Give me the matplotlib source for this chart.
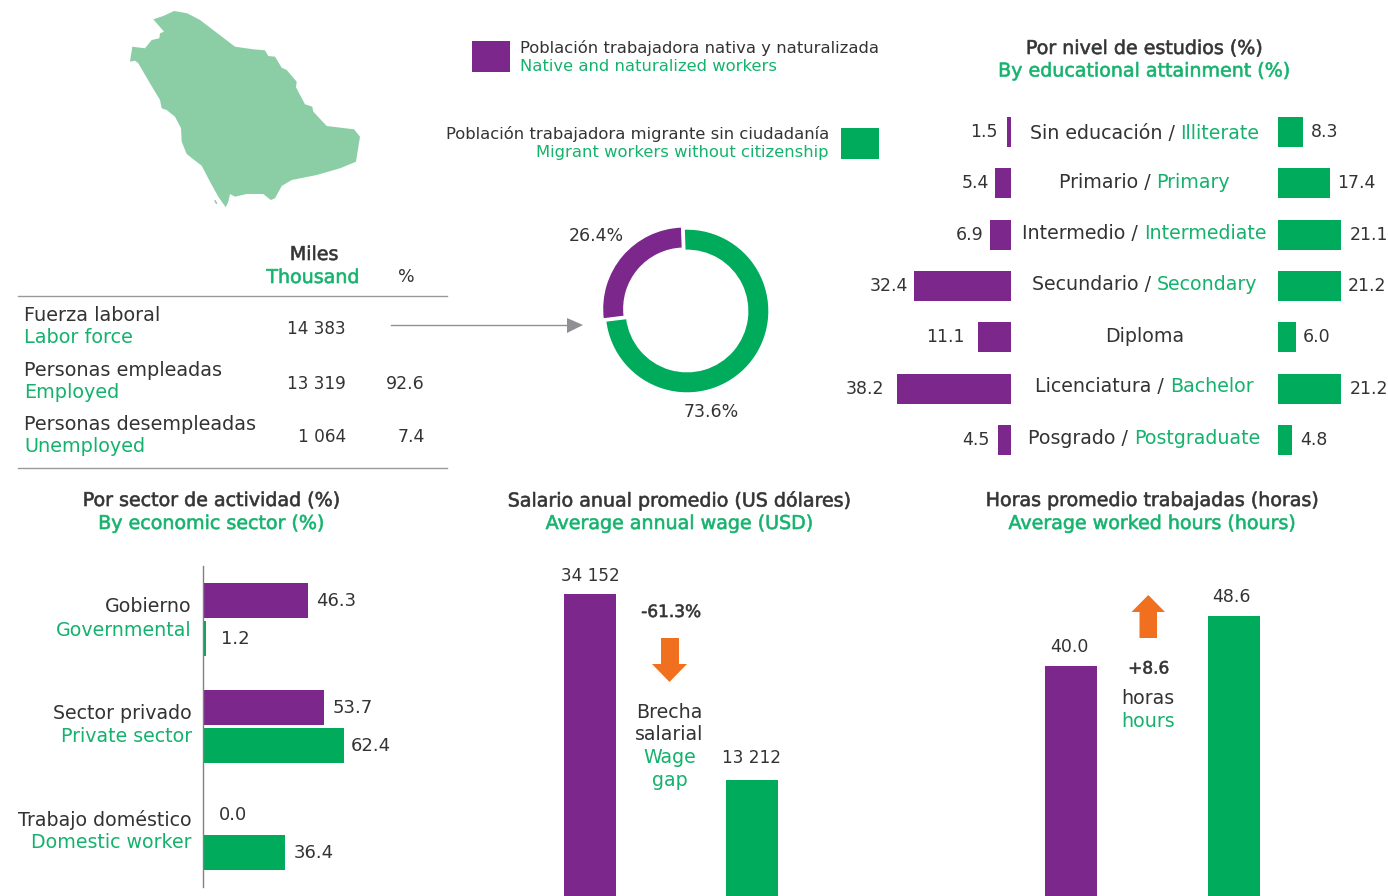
import matplotlib
matplotlib.use('Agg')
import matplotlib.pyplot as plt
import matplotlib.patheffects as pe
from matplotlib.patches import Polygon, Rectangle

W, H = 1388, 896
PURPLE = '#7b278c'
GREEN = '#00ab5b'
TGREEN = '#14b26c'
DARK = '#333333'
ORANGE = '#f0701f'
GREY = '#8f9094'
MAPC = '#8bcea6'
LABEL = 13.7
VALUE = 12.5

plt.rcParams['font.family'] = ['DejaVu Sans']

# donut
donut_vals = [73.6, 26.4]

# education
edu_es = ['Sin educación', 'Primario', 'Intermedio', 'Secundario', 'Diploma', 'Licenciatura', 'Posgrado']
edu_en = ['Illiterate', 'Primary', 'Intermediate', 'Secondary', None, 'Bachelor', 'Postgraduate']
edu_nat = [1.5, 5.4, 6.9, 32.4, 11.1, 38.2, 4.5]
edu_mig = [8.3, 17.4, 21.1, 21.2, 6.0, 21.2, 4.8]
edu_nat_pad = [9, 6, 7, 6, 13, 13, 8]
edu_mig_pad = [8, 7, 9, 7, 7, 9, 8]
edu_lab_y = [133.5, 182.5, 233.5, 285, 336, 387, 438]

# sector
sec_es = ['Gobierno', 'Sector privado', 'Trabajo doméstico']
sec_en = ['Governmental', 'Private sector', 'Domestic worker']
sec_nat = [46.3, 53.7, 0.0]
sec_mig = [1.2, 62.4, 36.4]
sec_nat_pad = [8, 8, 16]
sec_mig_pad = [15, 7, 8]

# wage and hours
wage = [34152, 13212]
wage_lab = ['34 152', '13 212']
wage_pad = [18, 22]
hours = [40.0, 48.6]

# table
tab_es = ['Fuerza laboral', 'Personas empleadas', 'Personas desempleadas']
tab_en = ['Labor force', 'Employed', 'Unemployed']
tab_th = ['14 383', '13 319', '1 064']
tab_pct = ['', '92.6', '7.4']

# map outline
map_x = [153.3, 163.3, 174, 187.3, 200, 216.7, 235, 253.3, 265, 268.3, 275, 281.7, 286.7, 296.7, 296, 305, 312.3, 313.3,
         326.7, 354, 360, 356, 340, 316.7, 291.7, 281.7, 275, 270.7, 263.3, 246.7, 235, 230, 228.3, 225.7, 218.3, 210,
         201.7, 193.3, 186.7, 181.7, 181, 175, 166.7, 161.7, 160, 150, 138.3, 135, 130, 132.3, 145, 151.7, 159.3, 160, 164]
map_y = [19.3, 16, 11, 13.3, 20, 32.7, 46.7, 49.3, 50.3, 56, 56.7, 67.7, 70, 81.7, 87.3, 104.3, 106.7, 111.7,
         126, 129.3, 136.7, 161.7, 168.3, 175, 180, 186, 198.3, 200, 194, 194, 196.7, 194, 201.7, 207.3, 196.7, 181.7,
         165.7, 159.3, 154, 141.7, 128.3, 116.7, 110, 108.3, 100, 83.3, 63.3, 60.7, 61.7, 46.7, 48.3, 40, 38.3, 33.3, 31.7]
island_x = [214, 215.5, 217.5, 216]
island_y = [200.5, 200, 203.5, 204]

fig = plt.figure(figsize=(W / 100, H / 100), dpi=100, facecolor='white')


def px_axes(x0, y0, x1, y1):
    ax = fig.add_axes([x0 / W, 1 - y1 / H, (x1 - x0) / W, (y1 - y0) / H])
    ax.patch.set_alpha(0)
    for s in ax.spines.values():
        s.set_visible(False)
    ax.set_xticks([])
    ax.set_yticks([])
    return ax


# overlay in pixel units for text, rules and the map
ov = fig.add_axes([0, 0, 1, 1], zorder=5)
ov.set_xlim(0, W)
ov.set_ylim(H, 0)
ov.axis('off')


def t(x, y, s, c=DARK, size=LABEL, ha='center', **kw):
    return ov.text(x, y, s, color=c, fontsize=size, ha=ha, va='center', **kw)


def head(x, y, s, c=DARK, size=LABEL):
    # the titles are a bit heavier than regular
    txt = t(x, y, s, c, size=size)
    txt.set_path_effects([pe.Stroke(linewidth=0.45, foreground=c)])


def two_tone(x, y, es, en, size=LABEL):
    # spanish / english on one line, centred on x
    r = fig.canvas.get_renderer()
    a = t(0, y, es + ' / ', size=size, ha='left')
    b = t(0, y, en, TGREEN, size=size, ha='left')
    wa = a.get_window_extent(r).width
    wb = b.get_window_extent(r).width
    a.set_x(x - (wa + wb) / 2)
    b.set_x(x - (wa + wb) / 2 + wa)


# map
ov.add_patch(Polygon(list(zip(map_x, map_y)), closed=True, fc=MAPC, ec='none'))
ov.add_patch(Polygon(list(zip(island_x, island_y)), closed=True, fc=MAPC, ec='none'))

# legend
ov.add_patch(Rectangle((472, 41), 38, 31, fc=PURPLE, ec='none'))
t(520, 47.5, 'Población trabajadora nativa y naturalizada', size=11.8, ha='left')
t(520, 66.5, 'Native and naturalized workers', TGREEN, size=11.8, ha='left')
ov.add_patch(Rectangle((841, 128), 38, 31, fc=GREEN, ec='none'))
t(829, 133.5, 'Población trabajadora migrante sin ciudadanía', size=11.8, ha='right')
t(829, 152.5, 'Migrant workers without citizenship', TGREEN, size=11.8, ha='right')

# table
head(314, 254.5, 'Miles')
head(313, 277.5, 'Thousand', TGREEN)
t(406, 277, '%', size=VALUE)
ov.plot([18, 447], [296.5, 296.5], color='#999999', lw=1)
ov.plot([18, 447], [468, 468], color='#999999', lw=1)
tab_y = [326, 381.5, 434.5]
for i in range(3):
    t(24, tab_y[i] - 10.5, tab_es[i], size=13.9, ha='left')
    t(24, tab_y[i] + 11.5, tab_en[i], TGREEN, size=13.9, ha='left')
    t(346, tab_y[i] + 2.5, tab_th[i], size=VALUE - 0.3, ha='right')
    t(425, tab_y[i] + 2.5, tab_pct[i], size=VALUE, ha='right')
ov.plot([391, 570], [325, 325], color=GREY, lw=1)
ov.add_patch(Polygon([(567, 318), (583, 325), (567, 333)], closed=True, fc=GREY, ec='none'))

# donut
ax = px_axes(600, 224, 774, 398)
ax.pie(donut_vals, colors=[GREEN, PURPLE], startangle=92, counterclock=False, radius=1,
       explode=[0, 0.04], center=(0, 0),
       wedgeprops={'width': 0.26, 'edgecolor': 'white', 'linewidth': 1})
ax.set_xlim(-87 / 82, 87 / 82)
ax.set_ylim(-87 / 82, 87 / 82)
t(596, 236, '%.1f%%' % donut_vals[1], size=VALUE)
t(711, 412, '%.1f%%' % donut_vals[0], size=VALUE)

# education
head(1144, 48.5, 'Por nivel de estudios (%)')
head(1144, 71, 'By educational attainment (%)', TGREEN)
edu_y = 132 - 25.65, 132 - 25.65 + 7 * 51.33
axl = px_axes(800, edu_y[0], 1011, edu_y[1])
axr = px_axes(1278, edu_y[0], 1388, edu_y[1])
rows = list(range(7))
axl.barh(rows, edu_nat, height=0.584, color=PURPLE)
axr.barh(rows, edu_mig, height=0.584, color=GREEN)
axl.set_xlim(211 / 2.98, 0)
axr.set_xlim(0, 110 / 2.98)
for a in (axl, axr):
    a.set_ylim(6.5, -0.5)
for i in rows:
    axl.annotate('%.1f' % edu_nat[i], (edu_nat[i], i), xytext=(-edu_nat_pad[i] * 0.72, 0), textcoords='offset points',
                 ha='right', va='center', color=DARK, fontsize=VALUE)
    axr.annotate('%.1f' % edu_mig[i], (edu_mig[i], i), xytext=(edu_mig_pad[i] * 0.72, 0), textcoords='offset points',
                 ha='left', va='center', color=DARK, fontsize=VALUE, annotation_clip=False)
    if edu_en[i]:
        two_tone(1144.5, edu_lab_y[i], edu_es[i], edu_en[i])
    else:
        t(1144.5, edu_lab_y[i], edu_es[i])

# sector
head(211, 500.5, 'Por sector de actividad (%)')
head(211, 523.5, 'By economic sector (%)', TGREEN)
axs = px_axes(203, 566, 420, 887)
axs.spines['left'].set_visible(True)
axs.spines['left'].set_color('#808080')
axs.spines['left'].set_linewidth(1)
for g in range(3):
    if sec_nat[g] > 0:
        axs.barh(g - 0.178, sec_nat[g], height=0.325, color=PURPLE)
    axs.barh(g + 0.178, sec_mig[g], height=0.325, color=GREEN)
    axs.annotate('%.1f' % sec_nat[g], (sec_nat[g], g - 0.178), xytext=(sec_nat_pad[g] * 0.72, -0.5), textcoords='offset points',
                 ha='left', va='center', color=DARK, fontsize=VALUE + 0.5)
    axs.annotate('%.1f' % sec_mig[g], (sec_mig[g], g + 0.178), xytext=(sec_mig_pad[g] * 0.72, -0.5), textcoords='offset points',
                 ha='left', va='center', color=DARK, fontsize=VALUE + 0.5)
    t(192, 607 + g * 106.5, sec_es[g], ha='right')
    t(192, 630 + g * 106.5, sec_en[g], TGREEN, ha='right')
axs.set_xlim(0, 217 / 2.26)
axs.set_ylim(2.5, -0.5)

# wage
head(679, 500.5, 'Salario anual promedio (US dólares)')
head(679, 523.5, 'Average annual wage (USD)', TGREEN)
axw = px_axes(509, 500, 833, 897)
axw.bar([0, 1], wage, width=0.321, color=[PURPLE, GREEN])
axw.set_xlim(-0.5, 1.5)
axw.set_ylim(0, 397 / 0.00888)
for i in range(2):
    axw.annotate(wage_lab[i], (i, wage[i]), xytext=(0, wage_pad[i] * 0.72), textcoords='offset points',
                 ha='center', va='center', color=DARK, fontsize=VALUE - 0.3)
head(671, 612, '-61.3%', size=12.2)
ov.add_patch(Polygon([(661, 638), (679, 638), (679, 664), (687, 664), (669.5, 682), (652, 664), (661, 664)],
                     closed=True, fc=ORANGE, ec='none'))
t(669.5, 712, 'Brecha')
t(669.5, 735, 'salarial')
t(669.5, 757.5, 'Wage', TGREEN)
t(669.5, 780, 'gap', TGREEN)

# hours
head(1152, 500.5, 'Horas promedio trabajadas (horas)')
head(1152, 523.5, 'Average worked hours (hours)', TGREEN)
axh = px_axes(989.5, 500, 1315.5, 898.6)
axh.bar([0, 1], hours, width=0.319, color=[PURPLE, GREEN])
axh.set_xlim(-0.5, 1.5)
axh.set_ylim(0, 398.6 / 5.81)
for i in range(2):
    axh.annotate('%.1f' % hours[i], (i, hours[i]), xytext=(-1.5, 13.5), textcoords='offset points',
                 ha='center', va='center', color=DARK, fontsize=VALUE)
ov.add_patch(Polygon([(1139.5, 638), (1157, 638), (1157, 612), (1165, 612), (1148.3, 595), (1131.5, 612), (1139.5, 612)],
                     closed=True, fc=ORANGE, ec='none'))
head(1148.5, 668.5, '+8.6', size=12.2)
t(1148, 699, 'horas')
t(1148, 721.5, 'hours', TGREEN)

fig.savefig('out.png', dpi=100)
